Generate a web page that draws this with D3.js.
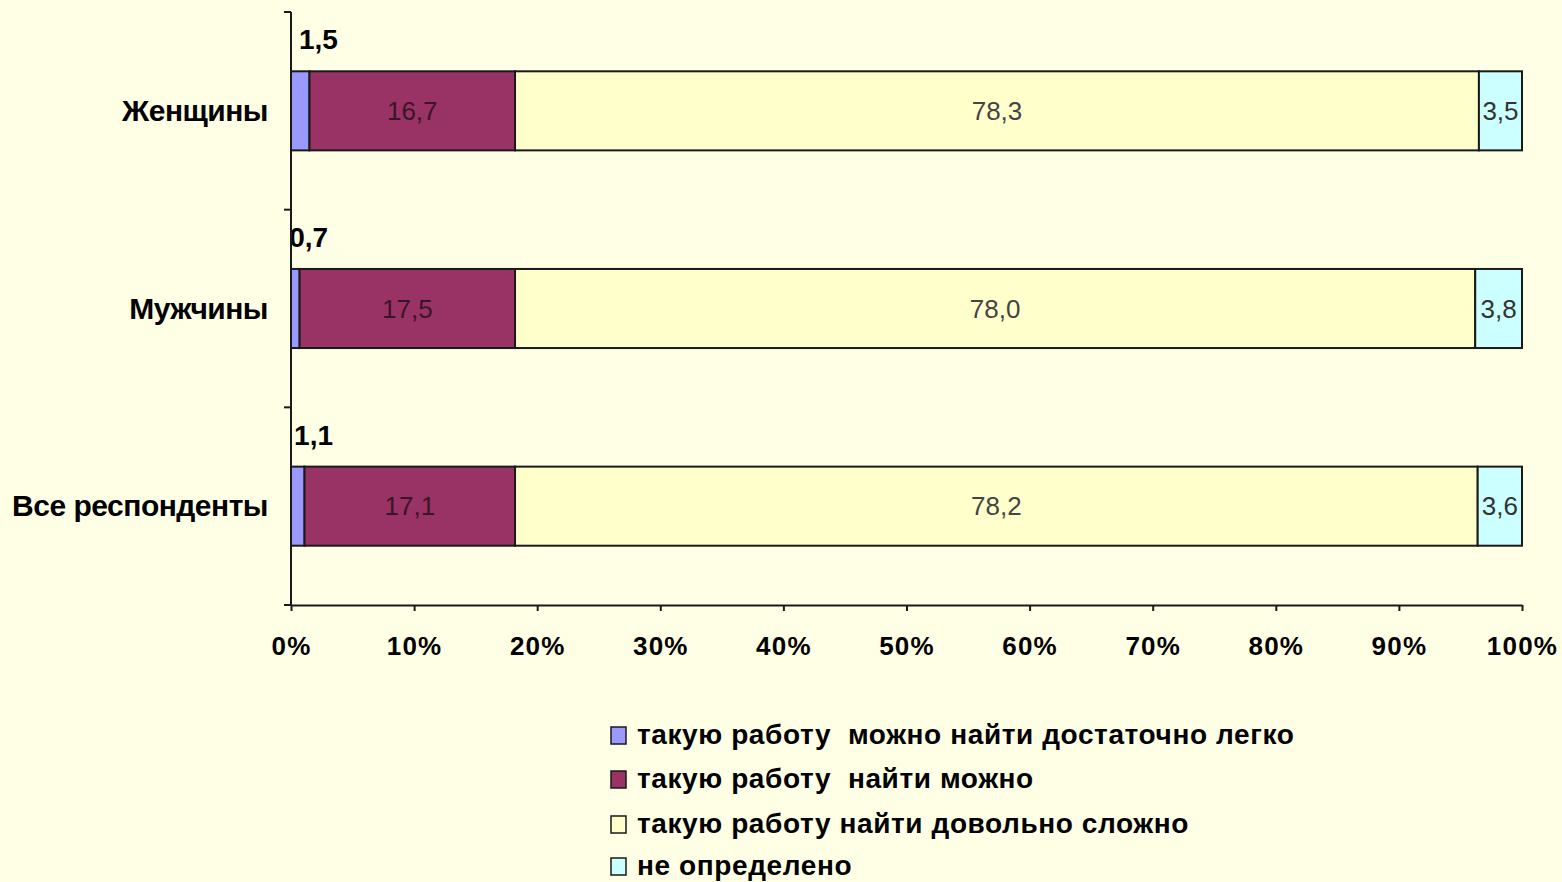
<!DOCTYPE html>
<html>
<head>
<meta charset="utf-8">
<script src="https://cdn.jsdelivr.net/npm/d3@7"></script>
<style>
  body { margin: 0; background: #FFFFE5; }
  svg { display: block; font-family: "Liberation Sans", Arial, sans-serif; }
</style>
</head>
<body>
<div id="chart"></div>
<script>
// data
const categories = ['Женщины', 'Мужчины', 'Все респонденты'];
const seriesNames = ['такую работу  можно найти достаточно легко', 'такую работу  найти можно', 'такую работу найти довольно сложно', 'не определено'];
const easy = [1.5, 0.7, 1.1];
const possible = [16.7, 17.5, 17.1];
const hard = [78.3, 78.0, 78.2];
const undefinedShare = [3.5, 3.8, 3.6];
const xTicks = [0, 10, 20, 30, 40, 50, 60, 70, 80, 90, 100];
const colors = ['#9999FF', '#993366', '#FFFFCC', '#CCFFFF'];

const W = 1562, H = 882;
const svg = d3.select('#chart').append('svg')
  .attr('width', W).attr('height', H);

svg.append('rect').attr('width', W).attr('height', H).attr('fill', '#FFFFE5');

const x = d3.scaleLinear().domain([0, 100]).range([291, 1522]);
const y = d3.scaleBand().domain(categories).range([12, 605]).paddingInner(0.6).paddingOuter(0.3);

const seriesVals = [easy, possible, hard, undefinedShare];
const table = categories.map((c, i) => {
  const row = { cat: c };
  seriesNames.forEach((s, j) => row[s] = seriesVals[j][i]);
  return row;
});
const stacked = d3.stack().keys(seriesNames)(table);

// bars
stacked.forEach((layer, j) => {
  svg.append('g').selectAll('rect')
    .data(layer)
    .join('rect')
      .attr('x', d => x(d[0]))
      .attr('y', d => y(d.data.cat))
      .attr('width', d => x(d[1]) - x(d[0]))
      .attr('height', y.bandwidth())
      .attr('fill', colors[j])
      .attr('stroke', '#1a1a1a')
      .attr('stroke-width', 2);
});

// labels inside bars (series 2..4)
const innerColors = ['#3a1528', '#444444', '#333333'];
stacked.slice(1).forEach((layer, j) => {
  svg.append('g').selectAll('text')
    .data(layer)
    .join('text')
      .attr('x', d => (x(d[0]) + x(d[1])) / 2)
      .attr('y', d => y(d.data.cat) + y.bandwidth() / 2 + 9)
      .attr('text-anchor', 'middle')
      .attr('font-size', 26)
      .attr('fill', innerColors[j])
      .text(d => d3.format('.1f')(d[1] - d[0]).replace('.', ','));
});

// small first-series labels above bars
svg.append('g').selectAll('text')
  .data(stacked[0])
  .join('text')
    .attr('x', d => x(d[1]) + 9)
    .attr('y', d => y(d.data.cat) - 22)
    .attr('text-anchor', 'middle')
    .attr('font-size', 28)
    .attr('font-weight', 'bold')
    .attr('fill', '#000')
    .text(d => d3.format('.1f')(d[1] - d[0]).replace('.', ','));

// axes
const xAxis = svg.append('g')
  .attr('transform', 'translate(0,605)')
  .call(d3.axisBottom(x).tickValues(xTicks).tickSize(6).tickSizeOuter(0).tickFormat(d => d + '%'));
xAxis.select('.domain').attr('stroke', '#1a1a1a').attr('stroke-width', 2);
xAxis.selectAll('.tick line').attr('stroke', '#1a1a1a').attr('stroke-width', 2);
xAxis.selectAll('.tick text')
  .attr('y', 32)
  .attr('font-size', 26)
  .attr('font-weight', 'bold')
  .attr('letter-spacing', 1.2)
  .attr('fill', '#000')
  .attr('font-family', '"Liberation Sans", Arial, sans-serif');

const yAxis = svg.append('g').attr('transform', 'translate(291,0)');
yAxis.append('line').attr('x1', 0).attr('x2', 0).attr('y1', 12).attr('y2', 605)
  .attr('stroke', '#1a1a1a').attr('stroke-width', 2);
const yStep = y.step();
yAxis.selectAll('line.tk')
  .data(d3.range(categories.length + 1))
  .join('line').attr('class', 'tk')
    .attr('x1', -7).attr('x2', 0)
    .attr('y1', i => 12 + i * yStep).attr('y2', i => 12 + i * yStep)
    .attr('stroke', '#1a1a1a').attr('stroke-width', 2);
yAxis.selectAll('text')
  .data(categories)
  .join('text')
    .attr('x', -23)
    .attr('y', d => y(d) + y.bandwidth() / 2 + 10)
    .attr('text-anchor', 'end')
    .attr('font-size', 30)
    .attr('font-weight', 'bold')
    .attr('letter-spacing', -0.5)
    .attr('fill', '#000')
    .text(d => d);

// legend
const legend = svg.append('g').attr('transform', 'translate(611,736)');
const lg = legend.selectAll('g')
  .data(seriesNames)
  .join('g')
    .attr('transform', (d, i) => `translate(0,${[0, 44, 89, 131][i]})`);
lg.append('rect')
  .attr('x', 0).attr('y', -9).attr('width', 15).attr('height', 17)
  .attr('fill', (d, i) => colors[i])
  .attr('stroke', '#1a1a1a').attr('stroke-width', 1.5);
lg.append('text')
  .attr('x', 26).attr('y', 8)
  .attr('font-size', 28)
  .attr('font-weight', 'bold')
  .attr('letter-spacing', 0.6)
  .attr('fill', '#000')
  .style('white-space', 'pre')
  .text(d => d);
</script>
</body>
</html>
